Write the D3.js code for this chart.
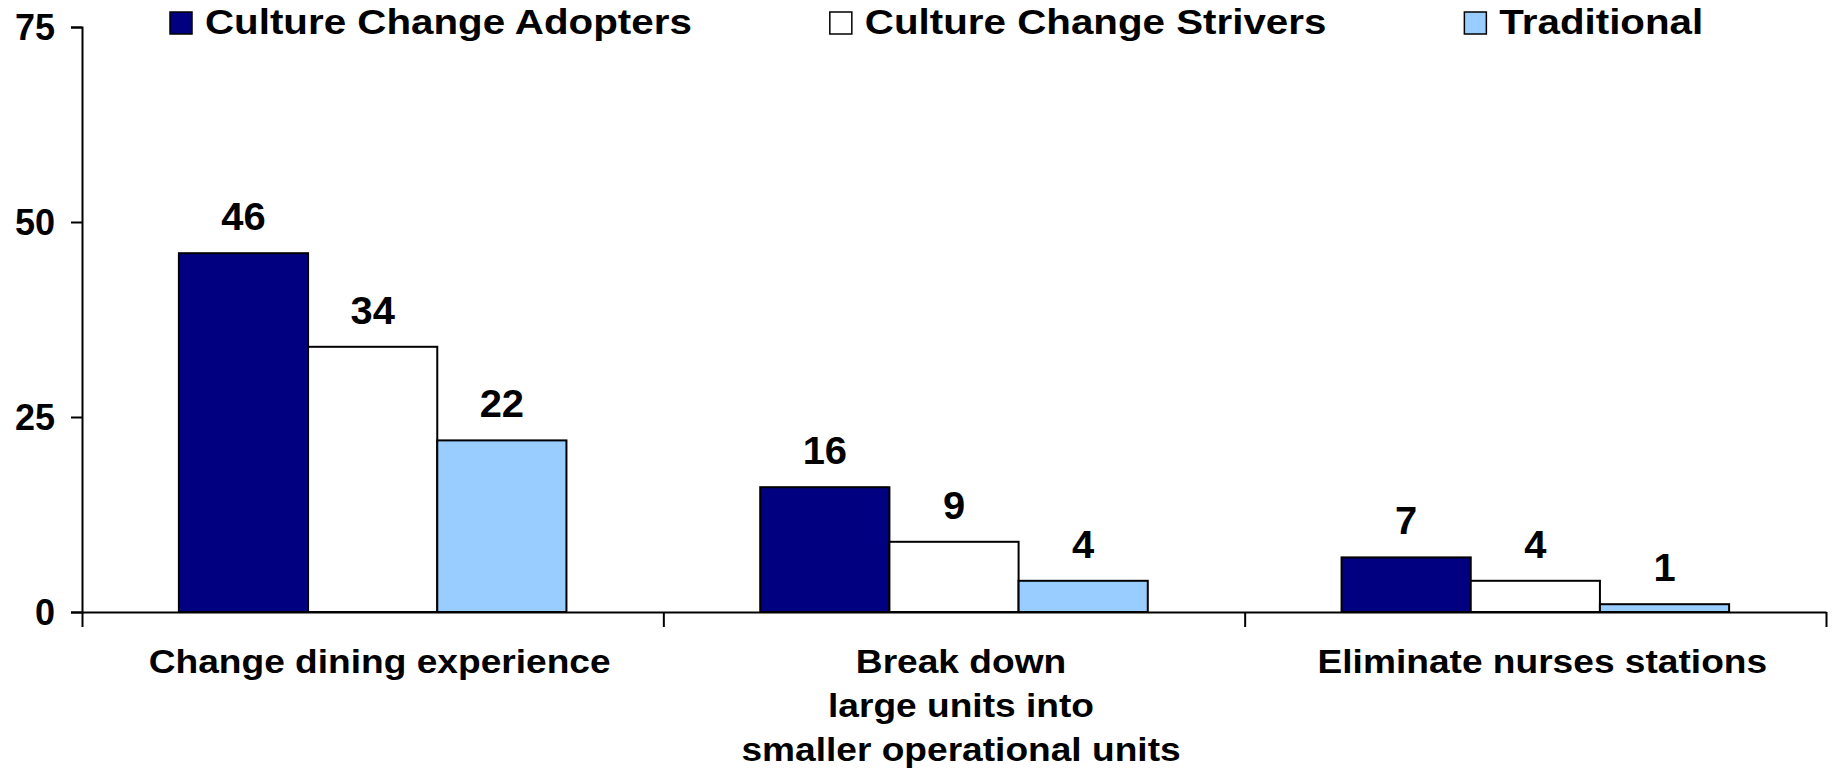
<!DOCTYPE html>
<html>
<head>
<meta charset="utf-8">
<script src="https://cdn.jsdelivr.net/npm/d3@7"></script>
<style>
    body { margin: 0; background: #ffffff; }
    text { font-family: "Liberation Sans", Arial, sans-serif; font-weight: bold; fill: #000000; }
</style>
</head>
<body>
<div id="chart"></div>
<script>
// Chart data.
let categories = [
    ["Change dining experience"],
    ["Break down", "large units into", "smaller operational units"],
    ["Eliminate nurses stations"]
];
let series_names = ["Culture Change Adopters", "Culture Change Strivers", "Traditional"];
let adopters = [46, 16, 7];
let strivers = [34, 9, 4];
let traditional = [22, 4, 1];
let y_ticks = [0, 25, 50, 75];

let series_values = [adopters, strivers, traditional];
let colors = ["#000080", "#ffffff", "#99ccff"];

let svg_width = 1834, svg_height = 770;
let margin = { top: 27, right: 8, bottom: 158, left: 82 },
    width = svg_width - margin.left - margin.right,
    height = svg_height - margin.top - margin.bottom;

var svg = d3.select("#chart")
    .append("svg")
        .attr("width", svg_width)
        .attr("height", svg_height)
    .append("g")
        .attr("transform", "translate(" + margin.left + "," + margin.top + ")");

// Define scales.
var x0 = d3.scaleBand()
    .domain(d3.range(categories.length))
    .range([0, width])
    .padding(0);
var x1 = d3.scaleBand()
    .domain(d3.range(series_names.length))
    .range([0, x0.bandwidth()])
    .paddingInner(0)
    .paddingOuter(0.75);
var y = d3.scaleLinear()
    .domain([0, 75])
    .range([height, 0]);

// Bars
let rows = [];
categories.forEach(function(c, i) {
    series_values.forEach(function(v, s) {
        rows.push({ cat: i, s: s, value: v[i] });
    });
});

svg.selectAll(".bar")
    .data(rows)
    .enter()
    .append("rect")
        .attr("class", "bar")
        .attr("x", d => x0(d.cat) + x1(d.s))
        .attr("y", d => y(d.value))
        .attr("width", x1.bandwidth())
        .attr("height", d => height - y(d.value))
        .attr("fill", d => colors[d.s])
        .attr("stroke", "#000")
        .attr("stroke-width", 2);

// Value labels above the bars.
svg.selectAll(".value")
    .data(rows)
    .enter()
    .append("text")
        .attr("class", "value")
        .attr("transform", d => "translate(" + (x0(d.cat) + x1(d.s) + x1.bandwidth() / 2) + "," + (y(d.value) - 23) + ") scale(1.05,1)")
        .style("text-anchor", "middle")
        .style("font-size", "38px")
        .text(d => d.value);

// Add the Y axis.
let y_axis = svg.append("g")
    .attr("class", "y_axis")
    .call(d3.axisLeft(y).tickValues(y_ticks).tickSize(11).tickPadding(16));
y_axis.selectAll("line, path").attr("stroke", "#000").attr("stroke-width", 2);
y_axis.selectAll("text")
    .style("font-size", "36px")
    .style("font-family", "'Liberation Sans', Arial, sans-serif")
    .attr("dy", "0.36em");

// Add the X axis, with ticks between the categories.
var x_edges = d3.scaleLinear()
    .domain([0, categories.length])
    .range([0, width]);
let x_axis = svg.append("g")
    .attr("class", "x_axis")
    .attr("transform", "translate(0," + height + ")")
    .call(d3.axisBottom(x_edges).tickValues(d3.range(categories.length + 1)).tickSize(15).tickSizeOuter(0).tickFormat(""));
x_axis.selectAll("line, path").attr("stroke", "#000").attr("stroke-width", 2);

// Category labels.
let cat_labels = svg.selectAll(".cat")
    .data(categories)
    .enter()
    .append("text")
        .attr("class", "cat")
        .attr("transform", (d, i) => "translate(" + (x0(i) + x0.bandwidth() / 2 + 7) + "," + (height + 61) + ") scale(1.125,1)")
        .style("text-anchor", "middle")
        .style("font-size", "33px");
cat_labels.selectAll("tspan")
    .data(d => d)
    .enter()
    .append("tspan")
        .attr("x", 0)
        .attr("dy", (d, i) => i == 0 ? 0 : 44)
        .text(d => d);

// Legend
let legend = svg.append("g")
    .attr("class", "legend")
    .attr("transform", "translate(" + (-margin.left) + "," + (-margin.top) + ")");
let lx = 170;
series_names.forEach(function(name, s) {
    legend.append("rect")
        .attr("x", lx)
        .attr("y", 12)
        .attr("width", 22)
        .attr("height", 22)
        .attr("fill", colors[s])
        .attr("stroke", "#000")
        .attr("stroke-width", 1.5);
    let t = legend.append("text")
        .attr("transform", "translate(" + (lx + 35) + ",34) scale(1.12,1)")
        .style("font-size", "36px")
        .text(name);
    let w = t.node().getComputedTextLength() * 1.12;
    lx = lx + 35 + w + 138;
});
</script>
</body>
</html>
